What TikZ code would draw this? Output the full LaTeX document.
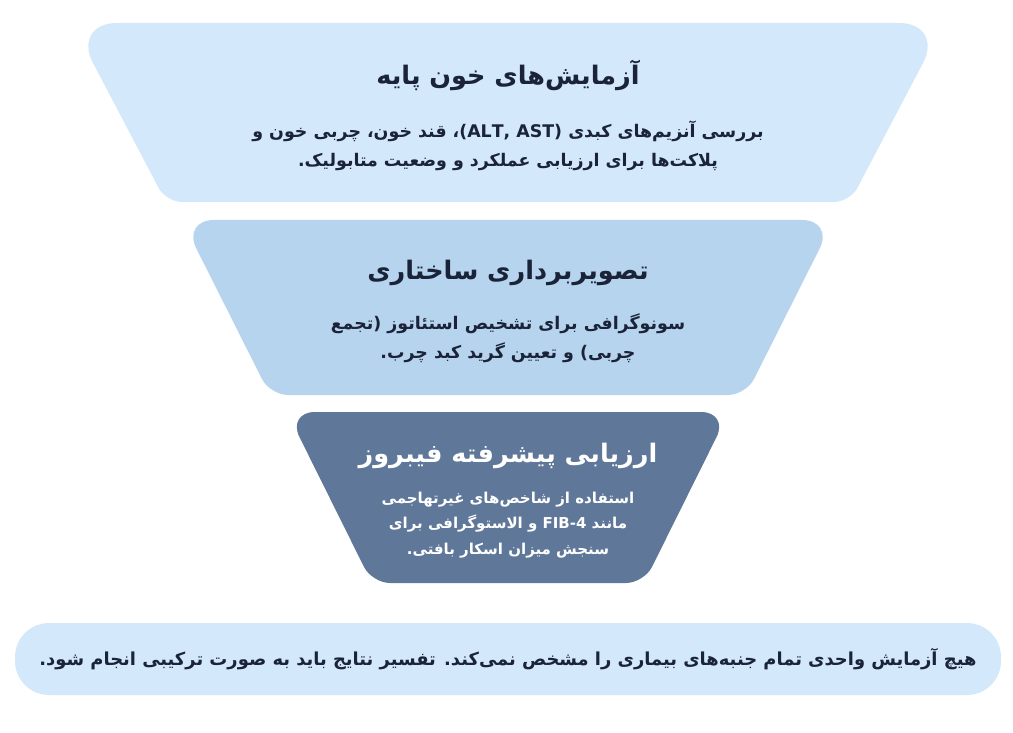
\documentclass[tikz,border=0pt]{standalone}
\usepackage{fontspec}
\TeXXeTstate=1
\newfontfamily\fa[Script=Arabic]{DejaVu Sans}
\usetikzlibrary{calc}
\definecolor{lightA}{HTML}{D3E8FA}
\definecolor{lightB}{HTML}{B6D4EE}
\definecolor{darkC}{HTML}{5F7799}
\definecolor{ink}{HTML}{1A2338}
\def\cx{508}
\newcommand\funnelpart[8]{% #1 name, #2 ytop, #3 ybot, #4 half top, #5 half bot, #6 rtop, #7 rbot, #8 fill
 \coordinate (#1tl) at (\cx-#4,#2);
 \coordinate (#1tr) at (\cx+#4,#2);
 \coordinate (#1br) at (\cx+#5,#3);
 \coordinate (#1bl) at (\cx-#5,#3);
 \fill[#8]
  ($(#1tl)!#6pt!(#1tr)$) -- ($(#1tr)!#6pt!(#1tl)$)
  .. controls ($(#1tr)!0.45*#6pt!(#1tl)$) and ($(#1tr)!0.45*#6pt!(#1br)$) .. ($(#1tr)!#6pt!(#1br)$)
  -- ($(#1br)!#7pt!(#1tr)$)
  .. controls ($(#1br)!0.45*#7pt!(#1tr)$) and ($(#1br)!0.45*#7pt!(#1bl)$) .. ($(#1br)!#7pt!(#1bl)$)
  -- ($(#1bl)!#7pt!(#1br)$)
  .. controls ($(#1bl)!0.45*#7pt!(#1br)$) and ($(#1bl)!0.45*#7pt!(#1tl)$) .. ($(#1bl)!#7pt!(#1tl)$)
  -- ($(#1tl)!#6pt!(#1bl)$)
  .. controls ($(#1tl)!0.45*#6pt!(#1bl)$) and ($(#1tl)!0.45*#6pt!(#1tr)$) .. cycle;
}
\tikzset{
  titletext/.style={font=\fa\bfseries\fontsize{25.5}{30}\selectfont, text=ink, inner sep=0pt},
  bodytext/.style={font=\fa\bfseries\fontsize{17.4}{29}\selectfont, text=ink, align=center, inner sep=0pt},
}
\begin{document}
\begin{tikzpicture}[x=1pt,y=-1pt]
\useasboundingbox (0,0) rectangle (1013,733);
\fill[white] (0,0) rectangle (1013,733);
\funnelpart{a}{23}{202}{436}{342}{45}{16}{lightA}
\funnelpart{b}{220}{395}{326}{238}{32}{18}{lightB}
\funnelpart{c}{412}{583}{221}{136}{28}{18}{darkC}
\fill[lightA, rounded corners=34] (15,623) rectangle (1001,695);

\node[titletext] (t1) at (508,75) {\beginR آزمایش^^^^200cهای خون پایه\endR};
\node[bodytext] (b1) at (508,146) {\beginR بررسی آنزیم^^^^200cهای کبدی \beginL(ALT, AST)\endL، قند خون، چربی خون و\endR\\\beginR پلاکت^^^^200cها برای ارزیابی عملکرد و وضعیت متابولیک.\endR};

\node[titletext] (t2) at (508,273) {\beginR تصویربرداری ساختاری\endR};
\node[bodytext] (b2) at (508,338) {\beginR سونوگرافی برای تشخیص استئاتوز (تجمع\endR\\\beginR چربی) و تعیین گرید کبد چرب.\endR};

\node[titletext, text=white] (t3) at (508,456) {\beginR ارزیابی پیشرفته فیبروز\endR};
\node[bodytext, text=white, font=\fa\bfseries\fontsize{15}{25.5}\selectfont] (b3) at (508,525) {\beginR استفاده از شاخص^^^^200cهای غیرتهاجمی\endR\\\beginR مانند \beginL FIB-4\endL{} و الاستوگرافی برای\endR\\\beginR سنجش میزان اسکار بافتی.\endR};

\node[bodytext, font=\fa\bfseries\fontsize{17.9}{20}\selectfont] (note) at (508,659) {\beginR هیچ آزمایش واحدی تمام جنبه^^^^200cهای بیماری را مشخص نمی^^^^200cکند. تفسیر نتایج باید به صورت ترکیبی انجام شود.\endR};
\end{tikzpicture}
\end{document}
